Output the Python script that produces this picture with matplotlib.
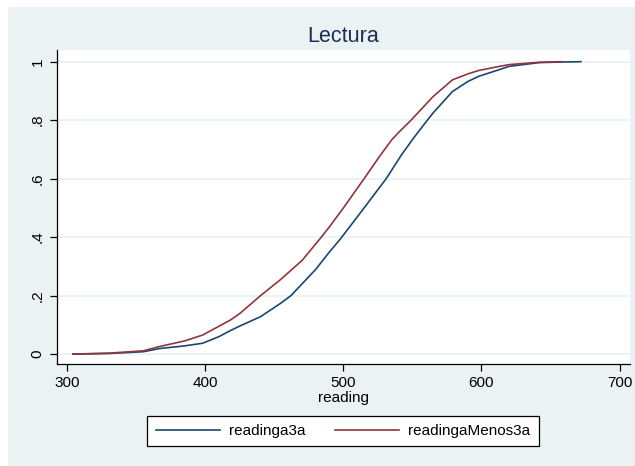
import matplotlib
matplotlib.use("Agg")
import matplotlib.pyplot as plt
from matplotlib.patches import Rectangle

plt.rcParams['font.family'] = ['Liberation Sans', 'DejaVu Sans']

# ECDF: (reading, cumulative share)
reading_a3a = [304, 330, 355, 367, 385, 398, 410, 418, 425, 440, 454, 462, 470, 480, 490,
               498, 515, 531, 542, 551, 560, 565, 579, 590, 598, 613, 620, 642, 660, 672]
cdf_a3a = [0.000, 0.002, 0.008, 0.019, 0.028, 0.037, 0.060, 0.080, 0.096, 0.128, 0.172,
           0.200, 0.240, 0.290, 0.350, 0.395, 0.500, 0.600, 0.681, 0.740, 0.795, 0.825,
           0.898, 0.932, 0.950, 0.973, 0.984, 0.997, 0.999, 1.000]

reading_menos3a = [304, 330, 355, 367, 385, 398, 418, 425, 440, 454, 470, 484, 490, 500,
                   515, 526, 535, 540, 549, 565, 579, 590, 598, 613, 620, 642, 658]
cdf_menos3a = [0.000, 0.003, 0.011, 0.026, 0.045, 0.065, 0.116, 0.139, 0.200, 0.253, 0.320,
               0.400, 0.436, 0.500, 0.600, 0.675, 0.733, 0.758, 0.800, 0.881, 0.938, 0.958,
               0.970, 0.984, 0.990, 0.998, 1.000]

xticks = [300, 400, 500, 600, 700]
yticks = [0, 0.2, 0.4, 0.6, 0.8, 1]
ytick_labels = ["0", ".2", ".4", ".6", ".8", "1"]

W, H = 635, 466
fig = plt.figure(figsize=(W / 100, H / 100), dpi=100, facecolor="white")

# light stata-like background panel
fig.patches.append(Rectangle((8 / W, 0), 1 - 8 / W, 1 - 7 / H, transform=fig.transFigure,
                             facecolor="#EAF2F3", edgecolor="none", zorder=-10))

ax = fig.add_axes([57 / W, 1 - 364 / H, (630 - 57) / W, (364 - 50) / H])
ax.set_facecolor("white")

ax.plot(reading_a3a, cdf_a3a, color="#1A476F", lw=1.2, label="readinga3a")
ax.plot(reading_menos3a, cdf_menos3a, color="#90353B", lw=1.2, label="readingaMenos3a")

ax.set_xlim(292.5, 707.6)
ax.set_ylim(-0.034, 1.040)
ax.set_xticks(xticks)
ax.set_yticks(yticks)
ax.set_yticklabels(ytick_labels, rotation=90, va="center")
ax.tick_params(axis="both", labelsize=11, length=5, width=0.9, direction="out")
ax.tick_params(axis="y", pad=4)
ax.grid(axis="y", color="#EAF2F3", lw=1.3)
ax.set_axisbelow(True)

for s in ["top", "right"]:
    ax.spines[s].set_visible(False)
for s in ["left", "bottom"]:
    ax.spines[s].set_linewidth(0.9)

ax.set_xlabel("reading", fontsize=11, labelpad=1)
fig.text(343 / W, 1 - 37 / H, "Lectura", ha="center", va="center",
         fontsize=15.5, color="#1E2D53")

leg = fig.legend(loc="center", bbox_to_anchor=(343 / W, 1 - 431 / H), ncol=2,
                 fontsize=11, frameon=True, fancybox=False, framealpha=1,
                 handlelength=4.2, handletextpad=0.6, columnspacing=1.9, borderpad=0.55)
leg.get_frame().set_edgecolor("black")
leg.get_frame().set_linewidth(0.9)
leg.get_frame().set_facecolor("white")

fig.savefig("out.png", dpi=100, facecolor=fig.get_facecolor())
